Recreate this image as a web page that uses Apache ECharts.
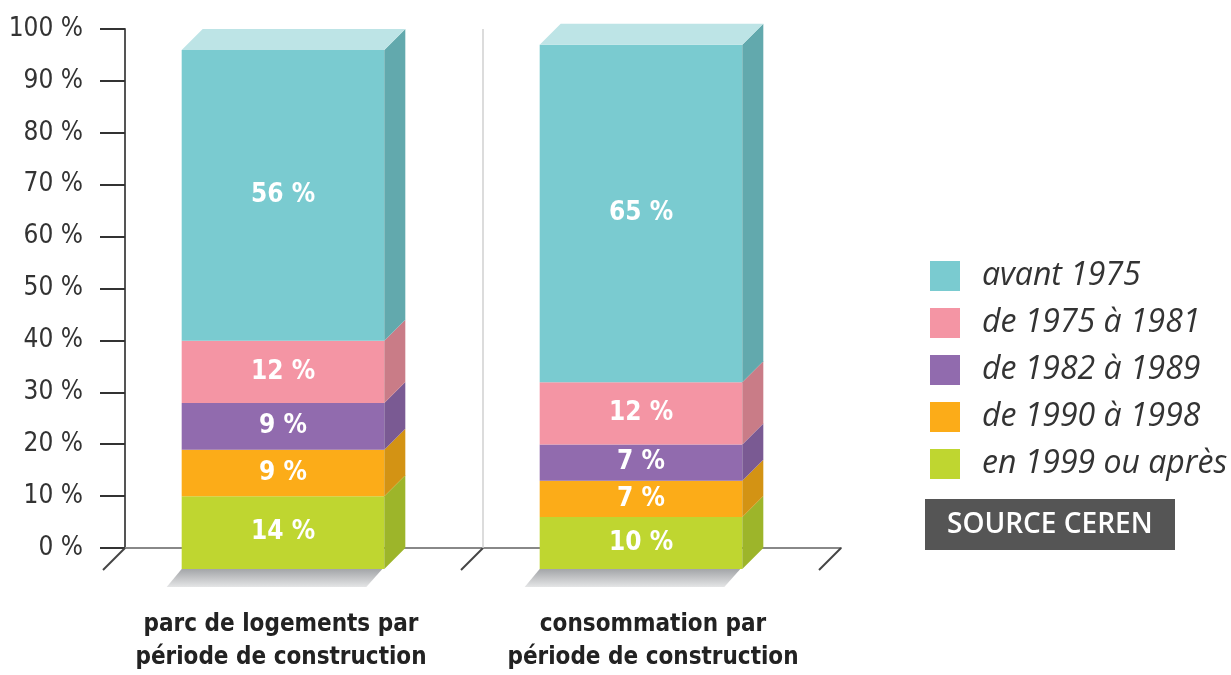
<!DOCTYPE html>
<html>
<head>
<meta charset="utf-8">
<script src="https://cdn.jsdelivr.net/npm/echarts@6/dist/echarts.min.js"></script>
<style>
  html, body { margin: 0; padding: 0; background: #fff; }
  #main { width: 1231px; height: 675px; }
</style>
</head>
<body>
<div id="main"></div>
<script>
// 数据
var categories = ['parc de logements par\npériode de construction', 'consommation par\npériode de construction'];
// 从下到上的堆叠顺序
var periods = ['en 1999 ou après', 'de 1990 à 1998', 'de 1982 à 1989', 'de 1975 à 1981', 'avant 1975'];
var apres1999 = [14, 10];
var de1990a1998 = [9, 7];
var de1982a1989 = [9, 7];
var de1975a1981 = [12, 12];
var avant1975 = [56, 65];
var yTicks = [0, 10, 20, 30, 40, 50, 60, 70, 80, 90, 100];

var stackValues = [apres1999, de1990a1998, de1982a1989, de1975a1981, avant1975];
var faceColors = ['#BFD630', '#FCAC18', '#916BAE', '#F495A4', '#7ACBD0'];
var sideColors = ['#9DB52A', '#D39314', '#7A5A93', '#C97C87', '#62A9AD'];
var topColor = '#BDE4E6';

var narrow = "'Liberation Sans Narrow', 'DejaVu Sans Condensed', sans-serif";

var myChart = echarts.init(document.getElementById('main'));

// 累加得到每段的起止
var bases = categories.map(function () { return 0; });
var seriesList = stackValues.map(function (vals, si) {
  var data = vals.map(function (v, ci) {
    var lo = bases[ci];
    bases[ci] += v;
    return [ci, lo, lo + v, v];
  });
  return {
    name: periods[si],
    type: 'custom',
    itemStyle: { color: faceColors[si] },
    data: data,
    encode: { x: 0, y: [1, 2] },
    renderItem: function (params, api) {
      var cat = api.value(0);
      var lo = api.value(1);
      var hi = api.value(2);
      var v = api.value(3);
      var b0 = api.coord([cat, lo]);
      var b1 = api.coord([cat, hi]);
      var band = api.size([1, 0])[0];
      var bw = band * 0.566;
      var d = 21;
      var xL = b0[0] - bw / 2, xR = b0[0] + bw / 2;
      var yBot = b0[1], yTop = b1[1];
      var fxL = xL - d, fxR = xR - d, fyBot = yBot + d, fyTop = yTop + d;
      var children = [];

      if (si === 0) {
        // 地面阴影
        children.push({
          type: 'polygon',
          shape: { points: [[fxL, fyBot], [fxR - 2, fyBot], [fxR - 18, fyBot + 18], [fxL - 15, fyBot + 18]] },
          style: {
            fill: new echarts.graphic.LinearGradient(0, 0, 0, 1, [
              { offset: 0, color: '#A3A5A8' },
              { offset: 1, color: '#E4E5E6' }
            ])
          }
        });
        // 地面斜线
        var edges = [b0[0] - band / 2];
        if (cat === categories.length - 1) edges.push(b0[0] + band / 2);
        edges.forEach(function (ex) {
          children.push({
            type: 'line',
            shape: { x1: ex, y1: yBot, x2: ex - 22, y2: yBot + 22 },
            style: { stroke: '#444', lineWidth: 2 }
          });
        });
        if (cat > 0) {
          var yMax = api.coord([cat, 100])[1];
          children.push({
            type: 'line',
            shape: { x1: b0[0] - band / 2, y1: yMax, x2: b0[0] - band / 2, y2: yBot },
            style: { stroke: '#D0D0D0', lineWidth: 1.5 }
          });
        }
      }

      // 正面
      children.push({
        type: 'rect',
        shape: { x: fxL, y: fyTop, width: bw, height: fyBot - fyTop },
        style: { fill: faceColors[si] }
      });
      // 侧面
      children.push({
        type: 'polygon',
        shape: { points: [[fxR, fyTop], [xR, yTop], [xR, yBot], [fxR, fyBot]] },
        style: { fill: sideColors[si] }
      });
      // 顶面
      if (si === stackValues.length - 1) {
        children.push({
          type: 'polygon',
          shape: { points: [[fxL, fyTop], [xL, yTop], [xR, yTop], [fxR, fyTop]] },
          style: { fill: topColor }
        });
      }
      // 标签
      children.push({
        type: 'text',
        style: {
          text: v + ' %',
          x: (fxL + fxR) / 2,
          y: (fyTop + fyBot) / 2,
          align: 'center',
          verticalAlign: 'middle',
          fill: '#fff',
          font: 'bold 26px ' + narrow
        }
      });
      return { type: 'group', children: children };
    }
  };
});

option = {
  animation: false,
  grid: { left: 125, right: 390, top: 29, bottom: 127, outerBoundsMode: 'none' },
  legend: {
    orient: 'vertical',
    left: 925,
    top: 255,
    itemWidth: 30,
    itemHeight: 30,
    itemGap: 15,
    icon: 'rect',
    data: periods.slice().reverse(),
    textStyle: {
      fontFamily: "'Open Sans', sans-serif",
      fontStyle: 'italic',
      fontSize: 32,
      lineHeight: 30,
      color: '#333',
      padding: [0, 0, 0, 17]
    }
  },
  xAxis: {
    type: 'category',
    data: categories,
    axisLine: { lineStyle: { color: '#888', width: 2 } },
    axisTick: { show: false },
    splitLine: { show: false },
    axisLabel: {
      interval: 0,
      margin: 60,
      formatter: function (value, index) {
        return value.split('\n').map(function (l) { return '{c' + index + '|' + l + '}'; }).join('\n');
      },
      rich: {
        c0: { fontFamily: narrow, fontWeight: 'bold', fontSize: 24, lineHeight: 33, color: '#222', padding: [0, 46, 0, 0] },
        c1: { fontFamily: narrow, fontWeight: 'bold', fontSize: 24, lineHeight: 33, color: '#222', padding: [0, 18, 0, 0] }
      }
    }
  },
  yAxis: {
    type: 'value',
    min: yTicks[0],
    max: yTicks[yTicks.length - 1],
    interval: 10,
    axisLine: { show: true, lineStyle: { color: '#555', width: 2 } },
    axisTick: { show: true, length: 25, lineStyle: { color: '#333', width: 2 } },
    splitLine: { show: false },
    axisLabel: {
      margin: 42,
      formatter: '{value} %',
      fontFamily: narrow,
      fontSize: 26,
      color: '#333'
    }
  },
  graphic: [
    {
      type: 'group',
      left: 925,
      top: 499,
      children: [
        { type: 'rect', shape: { x: 0, y: 0, width: 250, height: 51 }, style: { fill: '#555' } },
        {
          type: 'text',
          style: {
            text: 'SOURCE CEREN',
            x: 22, y: 26,
            verticalAlign: 'middle',
            fill: '#fff',
            font: '600 28px "Open Sans", sans-serif'
          }
        }
      ]
    }
  ],
  series: seriesList
};

myChart.setOption(option);
</script>
</body>
</html>
